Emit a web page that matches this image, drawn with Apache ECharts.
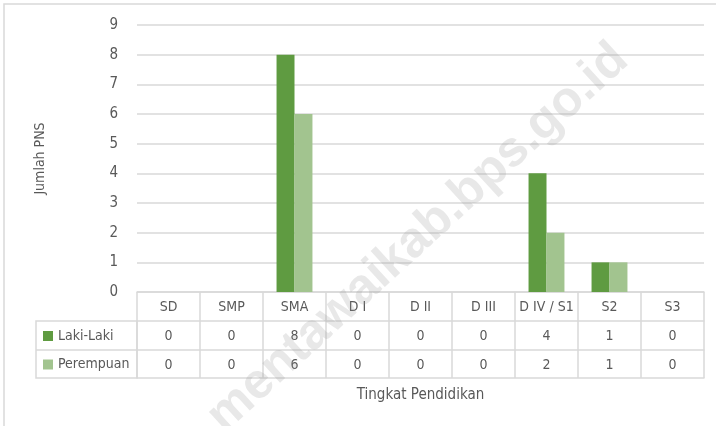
<!DOCTYPE html>
<html>
<head>
<meta charset="utf-8">
<script src="https://cdn.jsdelivr.net/npm/echarts@6/dist/echarts.min.js"></script>
<style>
  html, body { margin: 0; padding: 0; background: #fff; }
  #chart { width: 716px; height: 426px; }
</style>
</head>
<body>
<div id="chart"></div>
<script>
// data
const categories = ['SD', 'SMP', 'SMA', 'D I', 'D II', 'D III', 'D IV / S1', 'S2', 'S3'];
const lakiLaki = [0, 0, 8, 0, 0, 0, 4, 1, 0];
const perempuan = [0, 0, 6, 0, 0, 0, 2, 1, 0];
const seriesNames = ['Laki-Laki', 'Perempuan'];
const yTicks = { min: 0, max: 9, interval: 1 };

const FONT = "'Liberation Sans Narrow', 'DejaVu Sans Condensed', sans-serif";
const TXT = '#595959';
const LINE = '#d9d9d9';

const chart = echarts.init(document.getElementById('chart'));

// extra x axes used as the rows of the data table under the plot
const tableRow = (values, offset, showLabel) => ({
    type: 'category',
    gridIndex: 0,
    position: 'bottom',
    offset: offset,
    data: values.map(String),
    axisLine: { show: true, lineStyle: { color: LINE, width: 1.5 } },
    axisTick: { show: false },
    axisLabel: {
        show: showLabel, interval: 0, margin: 8,
        color: TXT, fontFamily: FONT, fontSize: 14
    },
    splitLine: { show: false }
});

const option = {
    backgroundColor: '#fff',
    animation: false,
    grid: { left: 137, right: 12, top: 25, bottom: 134, containLabel: false },
    legend: {
        orient: 'vertical',
        left: 38,
        top: 324,
        data: seriesNames,
        icon: 'rect',
        itemWidth: 10,
        itemHeight: 10,
        itemGap: 14.5,
        textStyle: { color: TXT, fontFamily: FONT, fontSize: 14, lineHeight: 14 }
    },
    xAxis: [
        {
            type: 'category',
            data: categories,
            axisLine: { show: true, lineStyle: { color: LINE, width: 1.5 } },
            axisTick: {
                show: true, interval: 0, length: 86, inside: false,
                lineStyle: { color: LINE, width: 1.5 }
            },
            axisLabel: {
                interval: 0, margin: 8,
                color: TXT, fontFamily: FONT, fontSize: 14
            }
        },
        tableRow(lakiLaki, 29, true),
        tableRow(perempuan, 58, true),
        Object.assign(tableRow([], 86, false), {
            data: categories,
            name: 'Tingkat Pendidikan',
            nameLocation: 'middle',
            nameGap: 10,
            nameTextStyle: { color: TXT, fontFamily: FONT, fontSize: 15 }
        })
    ],
    yAxis: {
        type: 'value',
        min: yTicks.min,
        max: yTicks.max,
        interval: yTicks.interval,
        name: 'Jumlah PNS',
        nameLocation: 'middle',
        nameGap: 90,
        nameTextStyle: { color: TXT, fontFamily: FONT, fontSize: 14 },
        axisLine: { show: false },
        axisTick: { show: false },
        axisLabel: { margin: 19, color: TXT, fontFamily: FONT, fontSize: 15 },
        splitLine: { lineStyle: { color: LINE, width: 1.5 } }
    },
    series: [
        {
            name: seriesNames[0],
            type: 'bar',
            data: lakiLaki,
            barGap: '0%',
            barCategoryGap: '43%',
            itemStyle: { color: '#5F9B41' }
        },
        {
            name: seriesNames[1],
            type: 'bar',
            data: perempuan,
            barGap: '0%',
            barCategoryGap: '43%',
            itemStyle: { color: '#A2C48F' }
        }
    ],
    graphic: [
        // chart frame (runs off the right and bottom edge)
        {
            type: 'rect', z: -10, silent: true,
            shape: { x: 4, y: 4, width: 740, height: 440 },
            style: { fill: null, stroke: LINE, lineWidth: 1.5 }
        },
        // legend cells of the data table
        {
            type: 'rect', silent: true,
            shape: { x: 36, y: 321, width: 101, height: 57 },
            style: { fill: null, stroke: LINE, lineWidth: 1.5 }
        },
        {
            type: 'line', silent: true,
            shape: { x1: 36, y1: 350, x2: 137, y2: 350 },
            style: { stroke: LINE, lineWidth: 1.5 }
        },
        // watermark
        {
            type: 'text', silent: true, z: 100,
            x: 418, y: 238,
            rotation: 0.74,
            style: {
                text: 'mentawaikab.bps.go.id',
                font: "bold 50px 'Liberation Sans', Arial, sans-serif",
                fill: 'rgba(150,150,150,0.22)',
                align: 'center',
                verticalAlign: 'middle'
            }
        }
    ]
};

chart.setOption(option);
</script>
</body>
</html>
